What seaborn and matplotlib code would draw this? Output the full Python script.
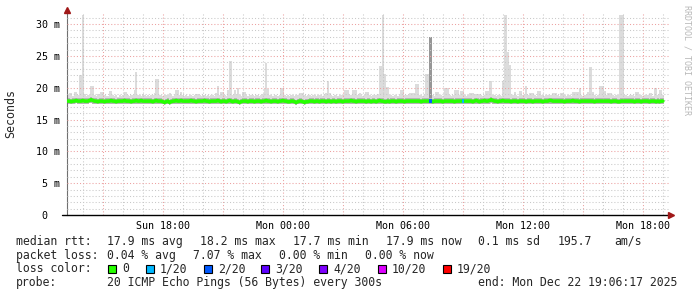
import numpy as np
import pandas as pd
import matplotlib
matplotlib.use("Agg")
import matplotlib.pyplot as plt
from matplotlib.patches import Rectangle
from matplotlib.lines import Line2D
import seaborn as sns

# ---------------- data ----------------
start_hour = 13.2          # hours since Sun 00:00 of the first sample
step_minutes = 5           # one sample every 300 s

rtt_max = [
    18.8, 19.2, 19.2, 18.7, 19.4, 19.4, 18.9, 22.0, 22.0, 31.4, 19.0, 18.7,
    18.8, 18.9, 20.2, 20.2, 18.8, 18.7, 19.0, 18.8, 19.3, 19.3, 18.8, 18.7,
    18.7, 19.5, 19.5, 18.8, 18.7, 18.9, 18.6, 18.8, 18.7, 18.9, 19.3, 19.3,
    18.8, 18.7, 18.9, 18.8, 19.6, 22.5, 18.9, 18.8, 18.7, 19.0, 18.8, 18.7,
    18.8, 18.7, 18.9, 18.8, 19.1, 21.4, 21.4, 18.9, 18.8, 18.7, 18.8, 18.9,
    18.8, 19.1, 18.8, 18.7, 18.9, 19.6, 19.6, 18.8, 19.3, 18.8, 18.7, 18.8,
    18.7, 18.8, 18.9, 18.7, 18.8, 19.0, 19.0, 18.8, 18.7, 18.9, 18.8, 18.7,
    18.8, 18.7, 18.9, 18.8, 18.7, 19.1, 20.2, 18.8, 19.3, 19.3, 18.8, 18.7,
    19.6, 24.2, 24.2, 18.9, 19.6, 18.8, 19.9, 18.8, 18.7, 19.3, 19.3, 18.8,
    18.7, 18.8, 18.9, 18.8, 18.7, 18.9, 18.8, 18.7, 18.9, 19.0, 19.8, 23.9,
    19.8, 18.9, 18.8, 18.7, 18.9, 18.8, 18.7, 18.9, 19.9, 20.0, 18.8, 18.7,
    18.8, 18.7, 18.9, 18.8, 18.7, 18.8, 18.9, 19.2, 19.2, 19.1, 18.8, 18.7,
    18.8, 18.9, 18.7, 18.8, 18.9, 18.7, 18.8, 18.9, 18.8, 18.7, 19.0, 19.1,
    21.1, 19.1, 18.8, 18.7, 18.9, 18.8, 18.7, 18.8, 18.9, 18.8, 19.6, 19.6,
    19.6, 18.8, 18.9, 19.6, 19.6, 19.6, 18.8, 19.1, 18.8, 18.7, 18.9, 19.3,
    19.3, 18.8, 18.7, 18.9, 18.8, 18.9, 19.0, 23.4, 23.4, 31.4, 22.2, 20.1,
    20.1, 18.9, 18.8, 18.7, 18.9, 18.8, 18.7, 18.9, 19.6, 19.6, 18.8, 18.9,
    18.8, 19.1, 19.1, 19.1, 19.1, 20.6, 20.6, 18.9, 18.8, 18.7, 18.8, 22.2,
    22.2, 27.9, 27.9, 18.8, 18.7, 19.3, 19.3, 18.8, 18.9, 18.7, 19.9, 19.9,
    19.9, 18.8, 18.7, 18.9, 19.6, 19.6, 19.6, 18.8, 19.5, 19.5, 18.8, 18.7,
    18.8, 19.1, 19.1, 19.1, 18.8, 19.0, 19.0, 19.0, 18.8, 18.7, 18.9, 19.5,
    19.5, 21.0, 21.0, 18.9, 18.8, 18.7, 18.9, 18.8, 18.7, 21.0, 31.4, 31.4,
    25.6, 23.5, 18.9, 18.8, 19.3, 18.8, 18.7, 19.5, 19.5, 18.8, 18.9, 20.3,
    18.8, 19.1, 19.1, 19.1, 18.8, 18.7, 19.5, 19.5, 18.8, 18.9, 18.7, 18.8,
    18.8, 18.8, 18.9, 19.1, 19.1, 19.1, 18.8, 18.7, 19.1, 19.1, 18.8, 18.7,
    18.8, 18.9, 18.7, 19.3, 19.3, 19.3, 19.3, 19.9, 18.8, 18.7, 18.9, 18.8,
    19.3, 23.2, 23.2, 19.3, 18.8, 18.7, 18.9, 20.3, 20.3, 20.3, 19.5, 18.8,
    19.1, 19.1, 19.1, 18.8, 18.7, 18.9, 18.8, 31.4, 31.4, 31.4, 18.9, 18.8,
    18.7, 18.8, 18.9, 18.8, 18.7, 19.3, 19.3, 18.8, 18.9, 18.7, 18.8, 18.9,
    18.8, 19.1, 19.1, 18.7, 20.0, 20.0, 18.8, 19.6, 19.6, 18.9,
]

rtt_median = [
    17.9, 17.9, 17.8, 17.9, 17.9, 18.0, 17.9, 17.9, 17.9, 18.0, 17.9, 17.9,
    17.9, 18.0, 18.1, 18.0, 17.9, 17.9, 17.8, 17.9, 17.9, 17.9, 17.8, 17.9,
    17.9, 17.9, 18.0, 17.9, 17.9, 17.8, 17.9, 17.9, 17.9, 17.9, 18.0, 17.9,
    17.9, 17.9, 17.8, 17.9, 17.9, 18.0, 17.9, 17.9, 18.0, 17.9, 17.9, 17.9,
    17.9, 17.9, 17.9, 17.8, 17.9, 18.0, 17.9, 17.9, 17.9, 17.8, 17.7, 17.8,
    17.9, 17.7, 17.8, 17.9, 17.9, 18.0, 17.9, 17.9, 18.0, 17.9, 17.9, 17.9,
    17.9, 17.9, 18.0, 17.9, 17.9, 17.8, 17.9, 17.9, 17.9, 17.9, 18.0, 17.9,
    17.9, 17.8, 17.9, 17.9, 17.9, 17.9, 18.0, 17.9, 17.8, 17.9, 17.9, 17.8,
    17.9, 18.0, 17.9, 17.8, 17.9, 17.9, 17.8, 17.7, 17.8, 17.9, 17.9, 17.9,
    17.8, 17.9, 17.9, 17.9, 17.8, 17.9, 17.9, 17.9, 17.8, 17.9, 17.9, 18.0,
    17.9, 17.9, 17.8, 17.9, 17.9, 17.9, 17.8, 17.9, 17.9, 18.0, 17.9, 17.9,
    17.8, 17.8, 17.9, 17.9, 17.8, 17.7, 17.8, 17.9, 17.9, 17.8, 17.7, 17.8,
    17.8, 17.9, 17.9, 17.9, 17.8, 17.9, 17.9, 17.8, 17.9, 17.9, 17.9, 17.8,
    17.9, 17.9, 17.8, 17.9, 17.9, 17.8, 17.9, 17.9, 17.9, 17.8, 17.9, 17.9,
    17.9, 17.9, 18.0, 17.9, 17.9, 17.8, 17.9, 17.9, 17.9, 17.9, 17.9, 17.8,
    17.9, 17.9, 17.8, 17.9, 17.9, 17.8, 17.9, 18.0, 17.9, 17.9, 17.8, 17.8,
    17.9, 17.8, 17.9, 17.9, 17.9, 17.8, 17.9, 17.9, 17.9, 17.9, 17.8, 17.9,
    17.9, 17.9, 17.9, 17.9, 17.9, 17.9, 17.9, 17.9, 17.8, 17.9, 17.9, 17.9,
    17.9, 17.9, 17.9, 17.8, 17.9, 17.9, 17.9, 17.9, 17.9, 17.8, 17.9, 17.9,
    17.9, 17.9, 17.9, 17.9, 17.8, 17.9, 17.9, 17.9, 17.9, 17.9, 17.9, 17.9,
    17.9, 17.9, 17.9, 17.8, 17.9, 18.0, 17.9, 17.8, 17.9, 17.9, 18.0, 17.9,
    17.9, 18.0, 18.1, 18.0, 17.9, 17.9, 17.8, 17.9, 17.9, 18.0, 17.9, 17.9,
    17.9, 17.9, 17.8, 17.9, 17.9, 17.9, 17.8, 17.9, 17.9, 17.9, 17.9, 17.8,
    17.9, 17.9, 17.9, 17.8, 17.9, 17.9, 17.9, 17.9, 17.9, 17.8, 17.9, 17.9,
    17.9, 18.0, 18.0, 17.9, 17.9, 17.9, 17.9, 17.9, 17.9, 17.9, 17.8, 17.9,
    17.9, 17.9, 17.9, 18.0, 17.9, 17.9, 17.9, 17.8, 17.9, 17.9, 17.9, 17.9,
    17.9, 17.9, 17.9, 17.9, 17.8, 17.9, 17.9, 17.9, 17.9, 17.9, 17.9, 17.9,
    17.9, 17.9, 17.8, 17.9, 17.9, 17.9, 17.8, 17.8, 17.9, 17.9, 17.9, 17.9,
    17.9, 17.9, 17.9, 17.9, 17.8, 17.9, 17.9, 17.9, 17.8, 17.9, 17.9, 17.9,
    17.9, 17.8, 17.9, 17.9, 17.9, 17.8, 17.9, 17.8, 17.9, 17.9,
]

rtt_min = [
    17.5, 17.5, 17.4, 17.5, 17.5, 17.6, 17.5, 17.5, 17.5, 17.5, 17.5, 17.4,
    17.5, 17.6, 17.6, 17.5, 17.5, 17.4, 17.4, 17.5, 17.5, 17.5, 17.4, 17.5,
    17.5, 17.5, 17.5, 17.5, 17.4, 17.4, 17.5, 17.5, 17.5, 17.5, 17.5, 17.5,
    17.5, 17.4, 17.4, 17.5, 17.5, 17.5, 17.5, 17.5, 17.5, 17.5, 17.4, 17.5,
    17.5, 17.5, 17.5, 17.4, 17.5, 17.5, 17.5, 17.5, 17.4, 17.4, 17.3, 17.4,
    17.5, 17.3, 17.4, 17.5, 17.5, 17.5, 17.5, 17.5, 17.5, 17.5, 17.5, 17.4,
    17.5, 17.5, 17.5, 17.5, 17.4, 17.4, 17.5, 17.5, 17.5, 17.5, 17.5, 17.5,
    17.5, 17.4, 17.5, 17.5, 17.5, 17.5, 17.5, 17.5, 17.4, 17.5, 17.5, 17.4,
    17.5, 17.5, 17.5, 17.4, 17.5, 17.5, 17.4, 17.3, 17.4, 17.5, 17.5, 17.5,
    17.4, 17.5, 17.5, 17.5, 17.4, 17.5, 17.5, 17.5, 17.4, 17.5, 17.5, 17.5,
    17.5, 17.5, 17.4, 17.5, 17.5, 17.5, 17.4, 17.5, 17.5, 17.5, 17.5, 17.5,
    17.4, 17.4, 17.5, 17.5, 17.4, 17.3, 17.4, 17.5, 17.5, 17.4, 17.3, 17.4,
    17.4, 17.5, 17.5, 17.5, 17.4, 17.5, 17.5, 17.4, 17.5, 17.5, 17.5, 17.4,
    17.5, 17.5, 17.4, 17.5, 17.5, 17.4, 17.5, 17.5, 17.5, 17.4, 17.5, 17.5,
    17.5, 17.5, 17.5, 17.5, 17.5, 17.4, 17.5, 17.5, 17.5, 17.5, 17.5, 17.4,
    17.5, 17.5, 17.4, 17.5, 17.5, 17.4, 17.5, 17.5, 17.5, 17.5, 17.4, 17.4,
    17.5, 17.4, 17.5, 17.5, 17.5, 17.4, 17.5, 17.5, 17.5, 17.5, 17.4, 17.5,
    17.5, 17.5, 17.5, 17.5, 17.5, 17.5, 17.5, 17.5, 17.4, 17.5, 17.5, 17.5,
    17.5, 17.5, 17.5, 17.4, 17.5, 17.5, 17.5, 17.5, 17.5, 17.4, 17.5, 17.5,
    17.5, 17.5, 17.5, 17.5, 17.4, 17.5, 17.5, 17.5, 17.5, 17.5, 17.5, 17.5,
    17.5, 17.5, 17.5, 17.4, 17.5, 17.5, 17.5, 17.4, 17.5, 17.5, 17.5, 17.5,
    17.5, 17.5, 17.6, 17.5, 17.5, 17.5, 17.4, 17.5, 17.5, 17.5, 17.5, 17.5,
    17.5, 17.5, 17.4, 17.5, 17.5, 17.5, 17.4, 17.5, 17.5, 17.5, 17.5, 17.4,
    17.5, 17.5, 17.5, 17.4, 17.5, 17.5, 17.5, 17.5, 17.5, 17.4, 17.5, 17.5,
    17.5, 17.5, 17.5, 17.5, 17.5, 17.5, 17.5, 17.5, 17.5, 17.5, 17.4, 17.5,
    17.5, 17.5, 17.5, 17.5, 17.5, 17.5, 17.5, 17.4, 17.5, 17.5, 17.5, 17.5,
    17.5, 17.5, 17.5, 17.5, 17.4, 17.5, 17.5, 17.5, 17.5, 17.5, 17.5, 17.5,
    17.5, 17.5, 17.4, 17.5, 17.5, 17.5, 17.4, 17.4, 17.5, 17.5, 17.5, 17.5,
    17.5, 17.5, 17.5, 17.5, 17.4, 17.5, 17.5, 17.5, 17.4, 17.5, 17.5, 17.5,
    17.5, 17.4, 17.5, 17.5, 17.5, 17.4, 17.5, 17.4, 17.5, 17.5,
]

# lost pings (out of 20) per sample; only a few samples had loss
loss_sample_index = [217, 218, 237]
loss_sample_count = [2, 2, 1]

y_ticks = [0, 5, 10, 15, 20, 25, 30]
y_tick_labels = ["0  ", "5 m", "10 m", "15 m", "20 m", "25 m", "30 m"]
x_ticks = [18, 24, 30, 36, 42]
x_tick_labels = ["Sun 18:00", "Mon 00:00", "Mon 06:00", "Mon 12:00", "Mon 18:00"]

loss_levels = [0, 1, 2, 3, 4, 10, 19]
loss_labels = ["0", "1/20", "2/20", "3/20", "4/20", "10/20", "19/20"]
loss_colors = ["#26ff00", "#00b8ff", "#0059ff", "#5e00ff", "#7e00ff", "#dd00ff", "#ff0000"]

legend_rtt = ["17.9 ms avg", "18.2 ms max", "17.7 ms min", "17.9 ms now", "0.1 ms sd", "195.7", "am/s"]
legend_loss = ["0.04 % avg", "7.07 % max", "0.00 % min", "0.00 % now"]
probe_text = "20 ICMP Echo Pings (56 Bytes) every 300s"
end_text = "end: Mon Dec 22 19:06:17 2025"

# ---------------- figure ----------------
sns.set_style("white")
plt.rcParams["font.family"] = ["DejaVu Sans Mono", "DejaVu Sans"]

W, H = 697, 297
fig = plt.figure(figsize=(W / 100, H / 100), dpi=100)
fig.patch.set_facecolor("white")

def fx(px):
    return px / W

def fy(py):
    return 1 - py / H

ax = fig.add_axes([fx(67), fy(215), (669 - 67) / W, (215 - 12) / H])
ax.set_facecolor("white")

step_h = step_minutes / 60.0
n = len(rtt_max)
t = start_hour + np.arange(n) * step_h
df = pd.DataFrame({"t": t, "tmid": t + step_h / 2, "min": rtt_min,
                   "median": rtt_median, "max": rtt_max})
loss = np.zeros(n, dtype=int)
for i, c in zip(loss_sample_index, loss_sample_count):
    loss[i] = c
df["loss"] = loss

x0, x1 = 13.2, 43.3
ymax = 31.9
ax.set_xlim(x0, x1)
ax.set_ylim(0, ymax)

# smoke: full range light grey, samples with >=2 lost pings darker
smoke_col = np.where(df["loss"] >= 2, "#979797", "#dcdcdc")
ax.bar(df["t"], df["max"] - df["min"], bottom=df["min"], width=step_h * 1.15,
       align="edge", color=smoke_col, linewidth=0, zorder=2)
# denser part of the smoke around the median
ax.bar(df["t"], (df["median"] + 0.45) - df["min"], bottom=df["min"], width=step_h,
       align="edge", color="#b4b4b4", linewidth=0, zorder=2)

# grid (drawn by hand: minor every hour / 1 ms, major every 3 h / 5 ms)
minor_kw = dict(color="#c8c8c8", lw=0.75, ls=(0, (1, 2)), zorder=3)
major_kw = dict(color="#eca0a0", lw=0.75, ls=(0, (1, 2)), zorder=3)
for h in range(14, 44):
    ax.axvline(h, **(major_kw if h % 3 == 0 else minor_kw))
for v in range(1, 32):
    ax.axhline(v, **(major_kw if v % 5 == 0 else minor_kw))

# median line coloured by loss
color_of = dict(zip(loss_levels, loss_colors))
sns.lineplot(data=df, x="tmid", y="median", color=color_of[0], lw=2.6,
             estimator=None, sort=False, ax=ax, zorder=4, legend=False)
lossy = df[df["loss"] > 0]
ax.hlines(lossy["median"], lossy["t"], lossy["t"] + step_h,
          colors=[color_of[c] for c in lossy["loss"]], lw=2.8, zorder=5)

# axes styling
for s in ["top", "right"]:
    ax.spines[s].set_visible(False)
ax.spines["left"].set_color("#707070")
ax.spines["left"].set_linewidth(0.8)
ax.spines["bottom"].set_visible(False)
ax.add_line(Line2D([-5 / 602, 1.0], [0, 0], transform=ax.transAxes,
                   color="black", lw=1.0, clip_on=False, zorder=6))
ax.plot([x0], [ymax + 0.25], marker="^", ms=5, color="#a01818",
        clip_on=False, zorder=7)
ax.plot([x1 + 0.1], [0], marker=">", ms=5, color="#a01818",
        clip_on=False, zorder=7)

ax.set_yticks(y_ticks)
ax.set_yticklabels(y_tick_labels)
ax.set_xticks(x_ticks)
ax.set_xticklabels(x_tick_labels)
ax.tick_params(axis="y", length=0, pad=5, labelsize=7.2, colors="black")
ax.tick_params(axis="x", length=0, pad=4, labelsize=7.2, colors="black")
ax.set_xlabel("")
ax.set_ylabel("")
ax.grid(False)

fig.text(fx(11), fy(113.5), "Seconds", rotation=90, ha="center", va="center",
         fontsize=8.4)
fig.text(fx(687), fy(60), "RRDTOOL / TOBI OETIKER", rotation=270, ha="center",
         va="center", fontsize=6, color="#b8b8b8")

# legend text
lfs = 8.3
row_y = [241.3, 255.3, 269.0, 282.5]
fig.text(fx(16), fy(row_y[0]), "median rtt:", va="center", fontsize=lfs)
for xp, s in zip([107, 200, 293, 386, 478, 558, 614], legend_rtt):
    fig.text(fx(xp), fy(row_y[0]), s, va="center", fontsize=lfs)
fig.text(fx(16), fy(row_y[1]), "packet loss:", va="center", fontsize=lfs)
for xp, s in zip([107, 193, 279, 365], legend_loss):
    fig.text(fx(xp), fy(row_y[1]), s, va="center", fontsize=lfs)
fig.text(fx(16), fy(row_y[2]), "loss color:", va="center", fontsize=lfs)
box_x = [108, 146, 204, 261, 319, 378, 443]
for bx, lab, col in zip(box_x, loss_labels, loss_colors):
    fig.patches.append(Rectangle((fx(bx), fy(row_y[2] + 4)), 8 / W, 8 / H,
                                 transform=fig.transFigure, facecolor=col,
                                 edgecolor="black", lw=0.8))
    fig.text(fx(bx + 14), fy(row_y[2]), lab, va="center", fontsize=lfs)
fig.text(fx(16), fy(row_y[3]), "probe:", va="center", fontsize=lfs)
fig.text(fx(107), fy(row_y[3]), probe_text, va="center", fontsize=lfs)
fig.text(fx(478), fy(row_y[3]), end_text, va="center", fontsize=lfs)

fig.savefig("out.png", dpi=100, facecolor="white")
